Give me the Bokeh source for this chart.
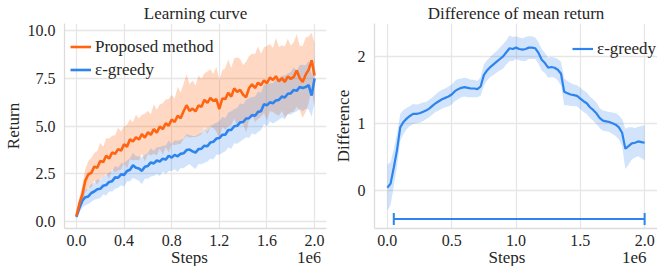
import numpy as np
from bokeh.plotting import figure
from bokeh.layouts import row, column
from bokeh.models import Range1d, Legend, LegendItem, FixedTicker, NumeralTickFormatter
from bokeh.core.properties import value
from bokeh.embed import file_html
from bokeh.resources import INLINE

# ---------------- data (x in units of 1e6 steps) ----------------
steps = [0.0, 0.025, 0.05, 0.075, 0.1, 0.125, 0.15, 0.175, 0.2, 0.225,
         0.25, 0.275, 0.3, 0.325, 0.35, 0.375, 0.4, 0.425, 0.45, 0.475,
         0.5, 0.525, 0.55, 0.575, 0.6, 0.625, 0.65, 0.675, 0.7, 0.725,
         0.75, 0.775, 0.8, 0.825, 0.85, 0.875, 0.9, 0.925, 0.95, 0.975,
         1.0, 1.025, 1.05, 1.075, 1.1, 1.125, 1.15, 1.175, 1.2, 1.225,
         1.25, 1.275, 1.3, 1.325, 1.35, 1.375, 1.4, 1.425, 1.45, 1.475,
         1.5, 1.525, 1.55, 1.575, 1.6, 1.625, 1.65, 1.675, 1.7, 1.725,
         1.75, 1.775, 1.8, 1.825, 1.85, 1.875, 1.9, 1.925, 1.95, 1.975,
         2.0]

proposed_mean = [0.30, 0.95, 1.42, 2.15, 2.48, 2.55, 2.88, 2.82, 3.18, 3.12,
                 3.45, 3.30, 3.62, 3.55, 3.80, 3.72, 4.05, 3.92, 4.32, 4.20,
                 4.42, 4.30, 4.58, 4.40, 4.68, 4.55, 4.85, 4.66, 4.98, 4.85,
                 5.15, 5.02, 5.35, 5.22, 5.55, 5.42, 5.78, 6.10, 5.80, 5.92,
                 5.78, 6.08, 6.02, 6.38, 6.22, 6.48, 6.32, 6.42, 5.90, 6.45,
                 6.42, 6.75, 6.55, 6.98, 6.80, 6.90, 6.65, 6.52, 7.00, 7.20,
                 7.00, 7.28, 7.15, 7.40, 7.25, 7.55, 7.42, 7.62, 7.35, 7.52,
                 7.32, 7.60, 7.48, 7.58, 7.92, 7.52, 7.32, 7.70, 7.95, 8.45,
                 7.65]
proposed_sd = [0.10, 0.30, 0.50, 0.62, 0.70, 0.78, 0.72, 0.88, 0.95, 0.80,
               0.92, 1.05, 0.88, 0.98, 1.12, 1.00, 0.95, 1.15, 1.05, 1.00,
               1.18, 1.10, 1.02, 1.25, 1.12, 1.08, 1.30, 1.20, 1.15, 1.35,
               1.25, 1.40, 1.30, 1.22, 1.50, 1.35, 1.45, 1.62, 1.40, 1.48,
               1.35, 1.58, 1.45, 1.40, 1.65, 1.50, 1.42, 1.70, 1.55, 1.48,
               1.62, 1.75, 1.50, 1.58, 1.80, 1.62, 1.55, 1.85, 1.68, 1.60,
               1.78, 1.90, 1.65, 1.72, 1.95, 1.75, 1.68, 2.00, 1.80, 1.72,
               1.85, 1.98, 1.75, 1.82, 1.90, 1.70, 1.88, 1.95, 1.75, 1.45,
               1.70]

greedy_mean = [0.25, 0.72, 1.10, 1.28, 1.32, 1.50, 1.58, 1.70, 1.72, 1.88,
               1.92, 2.08, 2.12, 2.32, 2.30, 2.48, 2.45, 2.65, 2.72, 2.95,
               2.82, 2.78, 2.66, 2.88, 2.92, 3.10, 3.05, 3.20, 3.15, 3.30,
               3.25, 3.45, 3.35, 3.50, 3.42, 3.55, 3.58, 3.75, 3.78, 3.68,
               3.62, 3.80, 3.82, 3.98, 3.95, 4.15, 4.18, 4.35, 4.38, 4.55,
               4.55, 4.80, 4.80, 5.00, 5.02, 5.20, 5.22, 5.40, 5.42, 5.58,
               5.55, 5.75, 5.78, 6.15, 6.10, 6.25, 6.20, 6.35, 6.38, 6.55,
               6.50, 6.70, 6.72, 6.90, 6.85, 7.05, 7.00, 7.05, 7.15, 6.60,
               7.50]
greedy_sd = [0.08, 0.25, 0.36, 0.42, 0.40, 0.47, 0.44, 0.52, 0.48, 0.46,
             0.55, 0.50, 0.54, 0.60, 0.52, 0.58, 0.62, 0.55, 0.60, 0.66,
             0.60, 0.64, 0.70, 0.62, 0.68, 0.74, 0.66, 0.70, 0.76, 0.68,
             0.74, 0.80, 0.70, 0.76, 0.82, 0.74, 0.78, 0.84, 0.76, 0.80,
             0.86, 0.78, 0.82, 0.90, 0.80, 0.86, 0.92, 0.84, 0.88, 0.95,
             0.86, 0.92, 0.98, 0.90, 0.94, 1.00, 0.92, 0.98, 1.04, 0.95,
             1.00, 1.06, 0.98, 1.04, 1.10, 1.00, 1.06, 1.12, 1.04, 1.10,
             1.15, 1.06, 1.12, 1.18, 1.08, 1.15, 1.22, 1.14, 1.28, 1.10,
             1.20]

diff_mean = [0.04, 0.10, 0.34, 0.60, 0.94, 1.02, 1.07, 1.11, 1.14, 1.14,
             1.15, 1.17, 1.19, 1.22, 1.26, 1.30, 1.33, 1.36, 1.38, 1.40,
             1.43, 1.48, 1.51, 1.53, 1.54, 1.53, 1.52, 1.52, 1.51, 1.55,
             1.72, 1.79, 1.84, 1.88, 1.92, 1.96, 2.00, 2.06, 2.12, 2.11,
             2.13, 2.11, 2.10, 2.11, 2.13, 2.13, 2.12, 2.05, 1.95, 1.90,
             1.83, 1.84, 1.83, 1.80, 1.74, 1.47, 1.45, 1.43, 1.42, 1.41,
             1.37, 1.33, 1.30, 1.24, 1.20, 1.15, 1.08, 1.04, 1.03, 1.02,
             1.00, 0.98, 0.94, 0.86, 0.62, 0.66, 0.70, 0.71, 0.73, 0.72,
             0.71]
diff_sd = [0.34, 0.32, 0.28, 0.24, 0.20, 0.18, 0.16, 0.15, 0.15, 0.14,
           0.14, 0.14, 0.13, 0.13, 0.13, 0.13, 0.14, 0.14, 0.14, 0.15,
           0.15, 0.15, 0.15, 0.14, 0.14, 0.14, 0.13, 0.13, 0.12, 0.14,
           0.16, 0.15, 0.15, 0.16, 0.16, 0.17, 0.18, 0.18, 0.19, 0.18,
           0.17, 0.17, 0.17, 0.18, 0.17, 0.17, 0.16, 0.16, 0.16, 0.15,
           0.15, 0.15, 0.15, 0.16, 0.18, 0.20, 0.18, 0.17, 0.16, 0.16,
           0.16, 0.16, 0.16, 0.16, 0.16, 0.16, 0.15, 0.15, 0.15, 0.15,
           0.16, 0.17, 0.18, 0.20, 0.30, 0.28, 0.24, 0.22, 0.22, 0.24,
           0.26]

sig_start, sig_end, sig_level = 0.05, 2.0, -0.43

left_xticks = [0.0, 0.4, 0.8, 1.2, 1.6, 2.0]
left_yticks = [0.0, 2.5, 5.0, 7.5, 10.0]
right_xticks = [0.0, 0.5, 1.0, 1.5, 2.0]
right_yticks = [0, 1, 2]
x_label = "Steps"
x_scale_label = "1e6"

# ---------------- style ----------------
ORANGE = "#ff6411"
BLUE = "#2e84ef"
FONT = "Liberation Serif"
TXT = "#262626"
GRID = "#e6e6e6"
FH = 205
STRIP_H = 18


def style(p, xticks, yticks, xfmt, yfmt, ylabel, ystandoff):
    p.outline_line_color = None
    p.background_fill_color = "white"
    p.xaxis.ticker = FixedTicker(ticks=xticks)
    p.yaxis.ticker = FixedTicker(ticks=yticks)
    p.xaxis.formatter = NumeralTickFormatter(format=xfmt)
    p.yaxis.formatter = NumeralTickFormatter(format=yfmt)
    for ax in (p.xaxis[0], p.yaxis[0]):
        ax.axis_line_color = "#dcdcdc"
        ax.axis_line_width = 1.3
        ax.major_tick_line_color = None
        ax.minor_tick_line_color = None
        ax.major_tick_out = 0
        ax.major_tick_in = 0
        ax.minor_tick_out = 0
        ax.minor_tick_in = 0
        ax.major_label_text_font = FONT
        ax.major_label_text_font_size = "16px"
        ax.major_label_text_color = TXT
        ax.axis_label_text_font = FONT
        ax.axis_label_text_font_size = "17px"
        ax.axis_label_text_font_style = "normal"
        ax.axis_label_text_color = TXT
    p.yaxis.axis_label = ylabel
    p.xaxis.major_label_standoff = 6
    p.yaxis.major_label_standoff = ystandoff
    p.yaxis.axis_label_standoff = 2
    p.grid.grid_line_color = GRID
    p.grid.grid_line_width = 1.3
    p.title.text_font = FONT
    p.title.text_font_size = "17px"
    p.title.text_font_style = "normal"
    p.title.text_color = TXT
    p.title.align = "center"
    p.title.standoff = 2


def strip(main, frame_width, left, right, scale_offset):
    """Row under a plot holding the x-axis title and the 1e6 scale text."""
    s = figure(frame_width=frame_width, frame_height=STRIP_H, output_backend="svg",
               toolbar_location=None, x_range=main.x_range, y_range=Range1d(0, 1),
               x_axis_type=None, y_axis_type=None,
               min_border_left=left, min_border_right=right,
               min_border_top=0, min_border_bottom=0)
    s.outline_line_color = None
    s.grid.visible = False
    xr = main.x_range
    s.text(x=[(xr.start + xr.end) / 2], y=[0.5], text=[x_label],
           text_font=value(FONT), text_font_size="17px", text_color=TXT,
           text_align="center", text_baseline="middle")
    s.text(x=[xr.end], y=[0.5], text=[x_scale_label], x_offset=scale_offset,
           text_font=value(FONT), text_font_size="17px", text_color=TXT,
           text_align="right", text_baseline="middle")
    return s


# ---------------- left: learning curve ----------------
p1 = figure(frame_width=262, frame_height=FH, output_backend="svg", toolbar_location=None,
            title="Learning curve",
            x_range=Range1d(-0.1, 2.1), y_range=Range1d(-0.36, 10.38),
            min_border_left=58, min_border_right=4, min_border_top=16,
            min_border_bottom=0)

pm = np.array(proposed_mean); ps = np.array(proposed_sd)
gm = np.array(greedy_mean); gs = np.array(greedy_sd)
p1.varea(x=steps, y1=pm - ps, y2=pm + ps, fill_color=ORANGE, fill_alpha=0.25)
p1.varea(x=steps, y1=gm - gs, y2=gm + gs, fill_color=BLUE, fill_alpha=0.22)
r_g = p1.line(steps, greedy_mean, line_color=BLUE, line_width=2.6)
r_p = p1.line(steps, proposed_mean, line_color=ORANGE, line_width=2.6)
style(p1, left_xticks, left_yticks, "0.0", "0.0", "Return", 9)

leg1 = Legend(items=[LegendItem(label="Proposed method", renderers=[r_p]),
                     LegendItem(label="ε-greedy", renderers=[r_g])],
              location=(6, FH - 57))
leg1.background_fill_alpha = 0
leg1.border_line_alpha = 0
leg1.label_text_font = FONT
leg1.label_text_font_size = "17px"
leg1.label_text_color = TXT
leg1.glyph_width = 21
leg1.label_standoff = 4
leg1.spacing = 2
leg1.margin = 0
leg1.padding = 0
leg1.label_height = 21
leg1.glyph_height = 21
p1.add_layout(leg1)

# ---------------- right: difference ----------------
p2 = figure(frame_width=283, frame_height=FH, output_backend="svg", toolbar_location=None,
            title="Difference of mean return",
            x_range=Range1d(-0.1, 2.1), y_range=Range1d(-0.57, 2.49),
            min_border_left=41, min_border_right=0, min_border_top=16,
            min_border_bottom=0)
dm = np.array(diff_mean); ds = np.array(diff_sd)
p2.varea(x=steps, y1=dm - ds, y2=dm + ds, fill_color=BLUE, fill_alpha=0.22)
r_d = p2.line(steps, diff_mean, line_color=BLUE, line_width=2.2)
p2.line([sig_start, sig_end], [sig_level, sig_level], line_color=BLUE, line_width=2)
p2.scatter([sig_start, sig_end], [sig_level, sig_level], marker="dash",
           angle=np.pi / 2, size=12, line_color=BLUE, line_width=2)
style(p2, right_xticks, right_yticks, "0.0", "0", "Difference", 9)

leg2 = Legend(items=[LegendItem(label="ε-greedy", renderers=[r_d])],
              location=(198, FH - 36))
leg2.background_fill_alpha = 0
leg2.border_line_alpha = 0
leg2.label_text_font = FONT
leg2.label_text_font_size = "17px"
leg2.label_text_color = TXT
leg2.glyph_width = 21
leg2.label_standoff = 4
leg2.margin = 0
leg2.padding = 0
leg2.label_height = 21
leg2.glyph_height = 21
p2.add_layout(leg2)

s1 = strip(p1, 262, 58, 4, 1)
s2 = strip(p2, 283, 41, 0, -2)

layout = column(row(p1, p2), row(s1, s2))
open("out.html", "w").write(file_html(layout, INLINE))
